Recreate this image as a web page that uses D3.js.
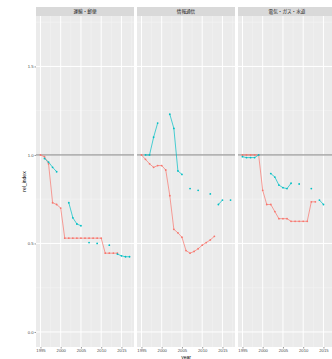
<!DOCTYPE html>
<html>
<head>
<meta charset="utf-8">
<script src="https://cdn.jsdelivr.net/npm/d3@7"></script>
<style>
  html, body { margin: 0; padding: 0; background: #fff; }
  svg { display: block; }
</style>
</head>
<body>
<script>
// Industry panels (facets)
const industries = ["運輸・郵便", "情報通信", "電気・ガス・水道"];
const years = d3.range(1995, 2018);

// Series values per industry, one per year (null = no observation)
const redSeries = {
  "運輸・郵便":       [1.00, 0.99, 0.95, 0.73, 0.72, 0.70, 0.53, 0.53, 0.53, 0.53, 0.53, 0.53, 0.53, 0.53, 0.53, 0.53, 0.445, 0.445, 0.445, 0.445, null, null, null],
  "情報通信":         [1.00, 0.975, 0.95, 0.93, 0.94, 0.94, 0.915, 0.77, 0.58, 0.56, 0.535, 0.46, 0.445, 0.455, 0.47, 0.49, 0.505, 0.52, 0.54, null, null, null, null],
  "電気・ガス・水道": [1.00, 1.00, 1.00, 1.00, 1.00, 0.80, 0.72, 0.72, 0.68, 0.64, 0.64, 0.64, 0.625, 0.625, 0.625, 0.625, 0.625, 0.735, 0.735, null, null, null, null]
};
const blueSeries = {
  "運輸・郵便":       [null, 0.98, 0.96, 0.93, 0.905, null, null, 0.73, 0.645, 0.61, 0.60, null, 0.505, null, 0.50, null, null, 0.49, null, 0.44, 0.43, 0.425, 0.425],
  "情報通信":         [null, 1.00, 1.00, 1.10, 1.18, null, null, 1.23, 1.15, 0.91, 0.89, null, 0.81, null, 0.80, null, null, 0.78, null, 0.72, 0.745, null, 0.745],
  "電気・ガス・水道": [0.99, 0.985, 0.985, 0.985, 1.00, null, null, 0.895, 0.875, 0.83, 0.815, 0.81, 0.84, null, 0.836, null, null, 0.81, null, 0.745, 0.72, null, null]
};
const seriesColors = ["#F8766D", "#00BFC4"];

// Axis ticks
const xTicks = [1995, 2000, 2005, 2010, 2015];
const xMinor = [1997.5, 2002.5, 2007.5, 2012.5, 2017.5];
const yTicks = [0.0, 0.5, 1.0, 1.5];
const yMinor = [0.25, 0.75, 1.25, 1.75];
const refLine = 1.0;

const W = 332, H = 359;
const panelLeft = 36, panelW = 98, panelGap = 3;
const panelTop = 16, panelBottom = 347;
const stripTop = 7;

const svg = d3.select("body").append("svg")
  .attr("width", W).attr("height", H)
  .style("font-family", "'Liberation Sans', Arial, sans-serif");

const y = d3.scaleLinear()
  .domain([0 - 0.085, 1.7 + 0.085])
  .range([panelBottom, panelTop]);

industries.forEach((ind, i) => {
  const x0 = panelLeft + i * (panelW + panelGap);
  const x = d3.scaleLinear()
    .domain([1995 - 1.1, 2017 + 1.1])
    .range([x0, x0 + panelW]);

  const g = svg.append("g");

  // panel background
  g.append("rect")
    .attr("x", x0).attr("y", panelTop)
    .attr("width", panelW).attr("height", panelBottom - panelTop)
    .attr("fill", "#EBEBEB");

  // minor grid
  g.selectAll(".ymin").data(yMinor.filter(v => y(v) > panelTop)).join("line")
    .attr("x1", x0).attr("x2", x0 + panelW)
    .attr("y1", d => y(d)).attr("y2", d => y(d))
    .attr("stroke", "#F5F5F5").attr("stroke-width", 0.5);
  g.selectAll(".xmin").data(xMinor).join("line")
    .attr("x1", d => x(d)).attr("x2", d => x(d))
    .attr("y1", panelTop).attr("y2", panelBottom)
    .attr("stroke", "#F5F5F5").attr("stroke-width", 0.5);

  // major grid
  g.selectAll(".ymaj").data(yTicks).join("line")
    .attr("x1", x0).attr("x2", x0 + panelW)
    .attr("y1", d => y(d)).attr("y2", d => y(d))
    .attr("stroke", "#fff").attr("stroke-width", 1);
  g.selectAll(".xmaj").data(xTicks).join("line")
    .attr("x1", d => x(d)).attr("x2", d => x(d))
    .attr("y1", panelTop).attr("y2", panelBottom)
    .attr("stroke", "#fff").attr("stroke-width", 1);

  // strip
  g.append("rect")
    .attr("x", x0).attr("y", stripTop)
    .attr("width", panelW).attr("height", panelTop - stripTop)
    .attr("fill", "#D9D9D9");
  g.append("text")
    .attr("x", x0 + panelW / 2).attr("y", (stripTop + panelTop) / 2 + 1.6)
    .attr("text-anchor", "middle")
    .attr("font-family", "'Noto Sans CJK JP', sans-serif")
    .attr("font-size", 4.6).attr("fill", "#1A1A1A")
    .text(ind);

  // reference line
  g.append("line")
    .attr("x1", x0).attr("x2", x0 + panelW)
    .attr("y1", y(refLine)).attr("y2", y(refLine))
    .attr("stroke", "#7F7F7F").attr("stroke-width", 1);

  // series
  [redSeries[ind], blueSeries[ind]].forEach((vals, s) => {
    const pts = years.map((yr, k) => ({ yr, v: vals[k] }));
    const line = d3.line()
      .defined(d => d.v != null)
      .x(d => x(d.yr)).y(d => y(d.v));
    g.append("path")
      .datum(pts)
      .attr("d", line)
      .attr("fill", "none")
      .attr("stroke", seriesColors[s])
      .attr("stroke-width", 0.7);
    g.selectAll(".pt" + s).data(pts.filter(d => d.v != null)).join("circle")
      .attr("cx", d => x(d.yr)).attr("cy", d => y(d.v))
      .attr("r", 0.9)
      .attr("fill", seriesColors[s]);
  });

  // x axis
  const xa = g.append("g").attr("transform", `translate(0,${panelBottom})`)
    .call(d3.axisBottom(x).tickValues(xTicks).tickFormat(d3.format("d"))
      .tickSize(1.5).tickPadding(1));
  xa.select(".domain").remove();
  xa.selectAll("line").attr("stroke", "#333").attr("stroke-width", 0.5);
  xa.selectAll("text").attr("font-size", 4.2).attr("fill", "#4D4D4D")
    .attr("font-family", "'Liberation Sans', Arial, sans-serif");

  // y axis on first panel
  if (i === 0) {
    const ya = g.append("g").attr("transform", `translate(${x0},0)`)
      .call(d3.axisLeft(y).tickValues(yTicks).tickFormat(d3.format(".1f"))
        .tickSize(1.5).tickPadding(1));
    ya.select(".domain").remove();
    ya.selectAll("line").attr("stroke", "#333").attr("stroke-width", 0.5);
    ya.selectAll("text").attr("font-size", 4.2).attr("fill", "#4D4D4D")
      .attr("font-family", "'Liberation Sans', Arial, sans-serif");
  }
});

// axis titles
svg.append("text")
  .attr("x", panelLeft + (3 * panelW + 2 * panelGap) / 2)
  .attr("y", 358.5)
  .attr("text-anchor", "middle")
  .attr("font-size", 5).attr("fill", "#000")
  .text("year");
svg.append("text")
  .attr("transform", `translate(26,${(panelTop + panelBottom) / 2}) rotate(-90)`)
  .attr("text-anchor", "middle")
  .attr("font-size", 5).attr("fill", "#000")
  .text("rel_index");
</script>
</body>
</html>
